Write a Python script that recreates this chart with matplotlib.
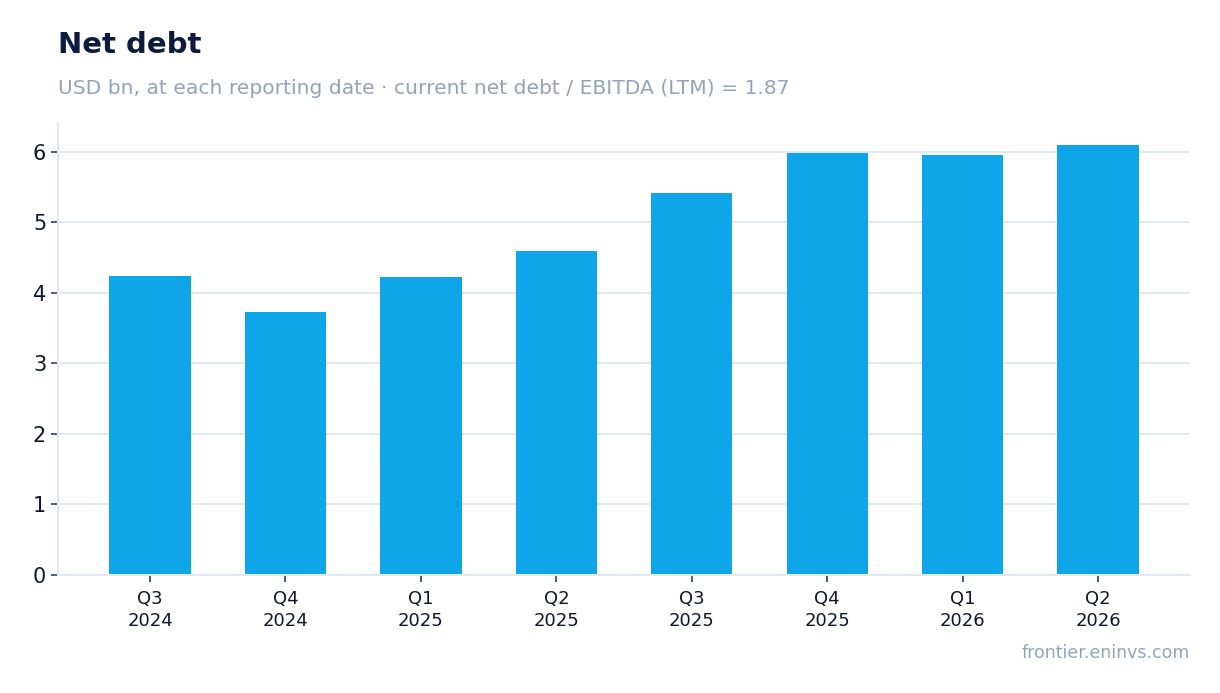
import matplotlib
matplotlib.use("Agg")
import matplotlib.pyplot as plt

# valores
quarters = ["Q3\n2024", "Q4\n2024", "Q1\n2025", "Q2\n2025",
            "Q3\n2025", "Q4\n2025", "Q1\n2026", "Q2\n2026"]
net_debt = [4.24, 3.73, 4.23, 4.60, 5.42, 5.99, 5.96, 6.10]
yticks = [0, 1, 2, 3, 4, 5, 6]

fig = plt.figure(figsize=(12.2, 6.93), dpi=100)
ax = fig.add_axes([0.0475, 0.1703, 0.928, 0.6522])

x = list(range(len(quarters)))
ax.bar(x, net_debt, width=0.6, color="#0EA5E9", zorder=2)

ax.set_xlim(-0.68, 7.68)
ax.set_ylim(0, 6.41)
ax.set_yticks(yticks)
ax.set_xticks(x)
ax.set_xticklabels(quarters, fontsize=13, color="#0F172A", linespacing=1.25)
ax.tick_params(axis="y", labelsize=15, colors="#0F172A")
ax.tick_params(axis="x", pad=6)
ax.tick_params(axis="both", length=5, width=1.2, color="#334155")
ax.grid(axis="y", color="#E2E8F0", linewidth=1.5, zorder=0)
ax.set_axisbelow(True)

for s in ["top", "right"]:
    ax.spines[s].set_visible(False)
for s in ["left", "bottom"]:
    ax.spines[s].set_color("#E2E8F0")
    ax.spines[s].set_linewidth(1.5)

fig.text(0.0475, 0.923, "Net debt", fontsize=21, fontweight="bold", color="#0B1A3F")
fig.text(0.0475, 0.864, "USD bn, at each reporting date \u00b7 current net debt / EBITDA (LTM) = 1.87",
         fontsize=14.6, color="#94A3B8")
fig.text(0.9754, 0.05, "frontier.eninvs.com", fontsize=12.5, color="#94A3B8", ha="right")

fig.savefig("out.png", dpi=100)
plt.close(fig)
